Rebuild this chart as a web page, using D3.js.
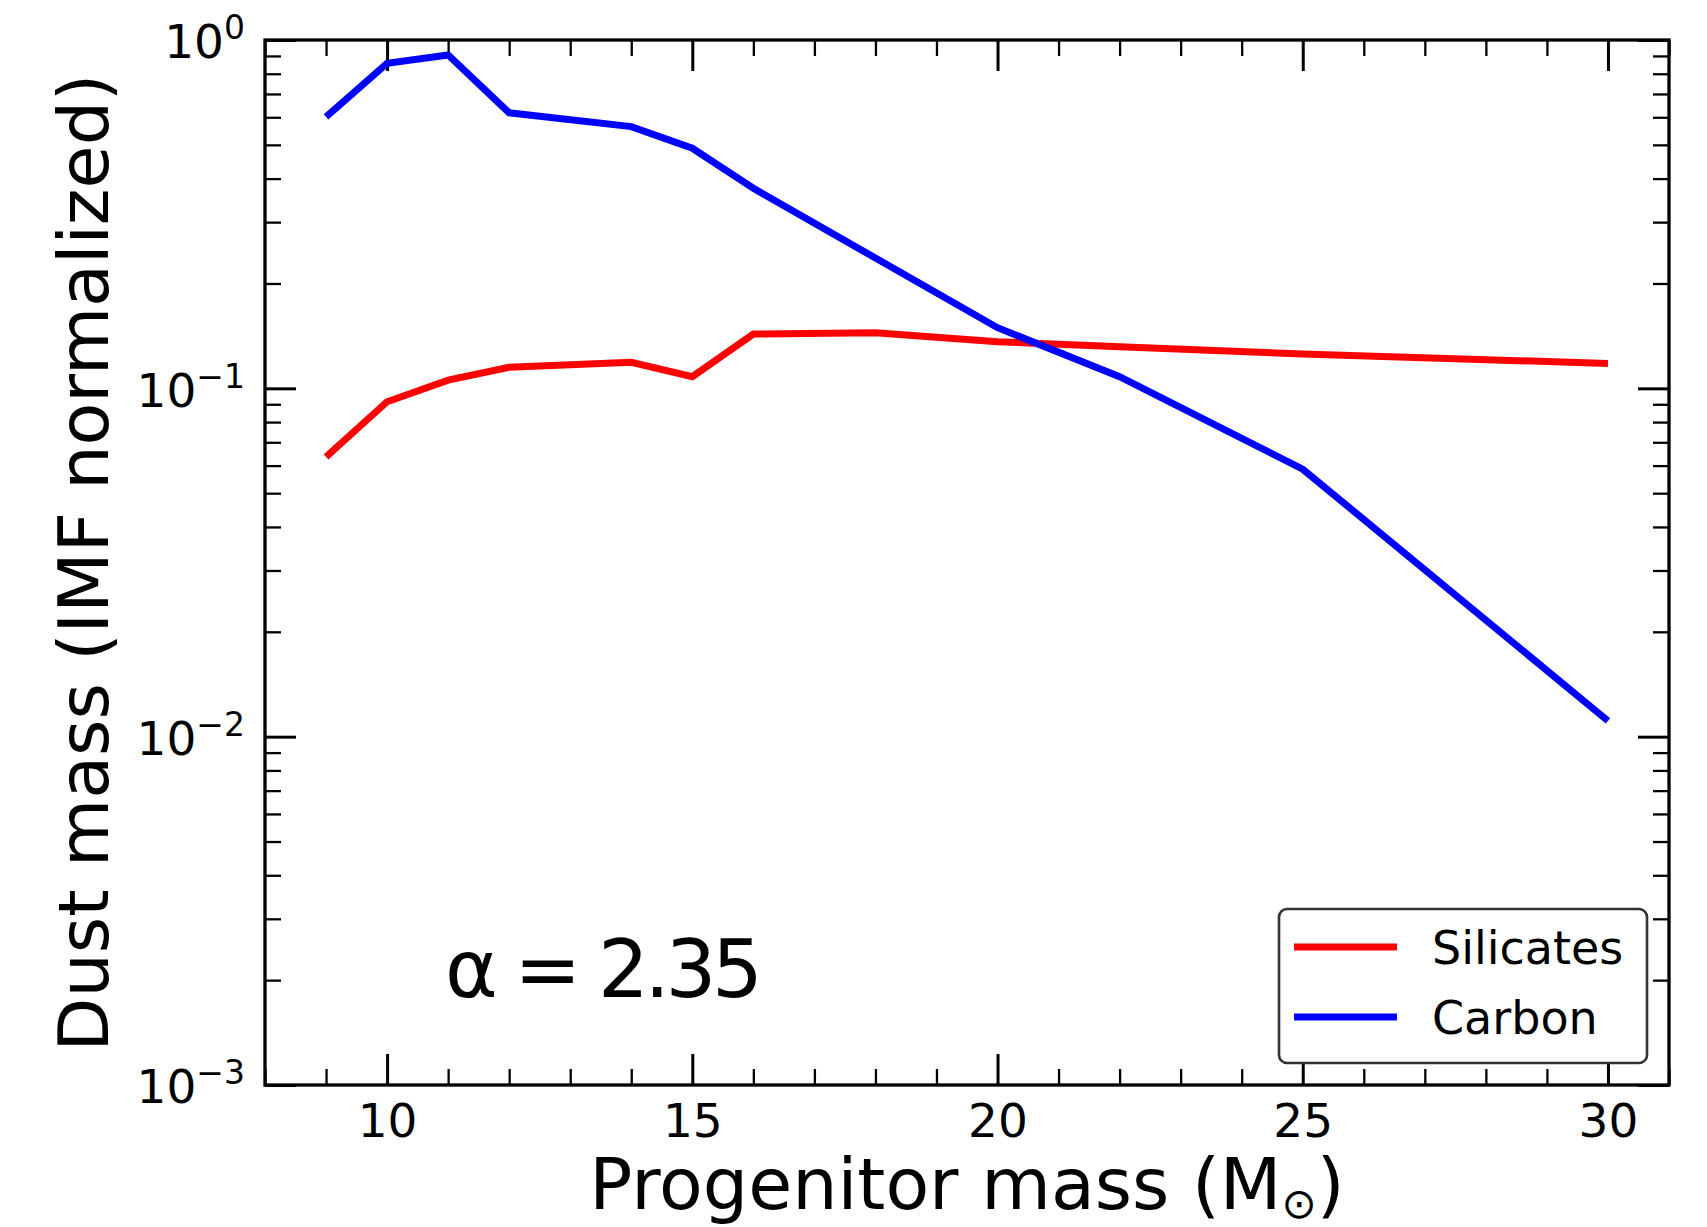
<!DOCTYPE html>
<html>
<head>
<meta charset="utf-8">
<script src="https://cdn.jsdelivr.net/npm/d3@7"></script>
<style>
  html, body { margin: 0; padding: 0; background: #fff; }
  svg { display: block; }
  text { font-family: "DejaVu Sans", sans-serif; fill: #000; }
</style>
</head>
<body>
<svg id="chart" width="1707" height="1227"></svg>
<script>
// ---- data ----
const masses = [9, 10, 11, 12, 14, 15, 16, 18, 20, 22, 25, 30];
const silicates = [0.0636, 0.0915, 0.1056, 0.1149, 0.1188, 0.1080, 0.1432, 0.1444, 0.1361, 0.1317, 0.1255, 0.1179];
const carbon = [0.602, 0.857, 0.906, 0.618, 0.564, 0.489, 0.3753, 0.2366, 0.1493, 0.1080, 0.0586, 0.0111];
const seriesNames = ["Silicates", "Carbon"];
const seriesColors = ["#ff0000", "#0000ff"];
const xMajorTicks = [10, 15, 20, 25, 30];
const yMajorExponents = [0, -1, -2, -3];
const xLabel = "Progenitor mass (M";
const yLabel = "Dust mass (IMF normalized)";
const annotation = "\u03b1 = 2.35";

// ---- layout ----
const L = 265, R = 1669, T = 40, B = 1085;
const svg = d3.select("#chart");

const x = d3.scaleLinear().domain([8, 31]).range([L, R]);
const y = d3.scaleLog().domain([1e-3, 1]).range([B, T]);

const xMinor = d3.range(8, 32).filter(v => !xMajorTicks.includes(v));
const yMajor = yMajorExponents.map(e => Math.pow(10, e));
const yMinor = [];
for (let e = -3; e < 0; e++) for (let k = 2; k <= 9; k++) yMinor.push(k * Math.pow(10, e));

function styleAxis(g, w) {
  g.select(".domain").remove();
  g.selectAll(".tick line").attr("stroke", "#000").attr("stroke-width", w);
}

// bottom major
const gxb = svg.append("g").attr("transform", `translate(0,${B})`)
  .call(d3.axisBottom(x).tickValues(xMajorTicks).tickSize(-31).tickPadding(19).tickFormat(d3.format("d")));
styleAxis(gxb, 3);
gxb.selectAll(".tick text").attr("font-size", 47).attr("font-family", "DejaVu Sans");
// bottom minor
const gxbm = svg.append("g").attr("transform", `translate(0,${B})`)
  .call(d3.axisBottom(x).tickValues(xMinor).tickSize(-16).tickFormat(""));
styleAxis(gxbm, 2.3);
// top major/minor
const gxt = svg.append("g").attr("transform", `translate(0,${T})`)
  .call(d3.axisTop(x).tickValues(xMajorTicks).tickSize(-31).tickFormat(""));
styleAxis(gxt, 3);
const gxtm = svg.append("g").attr("transform", `translate(0,${T})`)
  .call(d3.axisTop(x).tickValues(xMinor).tickSize(-16).tickFormat(""));
styleAxis(gxtm, 2.3);

// left major with labels
const gyl = svg.append("g").attr("transform", `translate(${L},0)`)
  .call(d3.axisLeft(y).tickValues(yMajor).tickSize(-31).tickPadding(20).tickFormat(""));
styleAxis(gyl, 3);
gyl.selectAll(".tick text").each(function(d) {
  const t = d3.select(this);
  const e = Math.round(Math.log10(d));
  t.attr("font-size", 47).attr("dy", "0.38em").attr("text-anchor", "end");
  t.append("tspan").text("10");
  t.append("tspan").attr("font-size", 33).attr("dy", -19)
    .text(e < 0 ? "\u2212" + Math.abs(e) : String(e));
});
const gylm = svg.append("g").attr("transform", `translate(${L},0)`)
  .call(d3.axisLeft(y).tickValues(yMinor).tickSize(-16).tickFormat(""));
styleAxis(gylm, 2.3);
// right
const gyr = svg.append("g").attr("transform", `translate(${R},0)`)
  .call(d3.axisRight(y).tickValues(yMajor).tickSize(-31).tickFormat(""));
styleAxis(gyr, 3);
const gyrm = svg.append("g").attr("transform", `translate(${R},0)`)
  .call(d3.axisRight(y).tickValues(yMinor).tickSize(-16).tickFormat(""));
styleAxis(gyrm, 2.3);

// data lines
const line = d3.line().x((d, i) => x(masses[i])).y(d => y(d));
[silicates, carbon].forEach((s, i) => {
  svg.append("path").datum(s)
    .attr("d", line)
    .attr("fill", "none")
    .attr("stroke", seriesColors[i])
    .attr("stroke-width", 7)
    .attr("stroke-linejoin", "miter")
    .attr("stroke-linecap", "butt");
});

// spines
svg.append("rect").attr("x", L).attr("y", T).attr("width", R - L).attr("height", B - T)
  .attr("fill", "none").attr("stroke", "#000").attr("stroke-width", 3.3);

// axis labels
const xl = svg.append("text").attr("x", (L + R) / 2).attr("y", 1209)
  .attr("text-anchor", "middle").attr("font-size", 71.5);
xl.append("tspan").text(xLabel);
xl.append("tspan").attr("font-size", 42).attr("dy", 9).text("\u2299");
xl.append("tspan").attr("dy", -9).text(")");

svg.append("text")
  .attr("transform", `translate(108,${(T + B) / 2}) rotate(-90)`)
  .attr("text-anchor", "middle").attr("font-size", 70)
  .text(yLabel);

// annotation
svg.append("text").attr("x", 445).attr("y", 997)
  .attr("font-family", "Lato, sans-serif").attr("font-size", 80)
  .attr("textLength", 318).attr("lengthAdjust", "spacing")
  .text(annotation);

// legend
const lg = svg.append("g");
lg.append("rect").attr("x", 1279).attr("y", 909).attr("width", 368).attr("height", 154)
  .attr("rx", 8).attr("ry", 8)
  .attr("fill", "#fff").attr("stroke", "#333").attr("stroke-width", 2.6);
const legendY = [947, 1017];
seriesNames.forEach((n, i) => {
  lg.append("line").attr("x1", 1294).attr("x2", 1397).attr("y1", legendY[i]).attr("y2", legendY[i])
    .attr("stroke", seriesColors[i]).attr("stroke-width", 7);
  lg.append("text").attr("x", 1432).attr("y", legendY[i] + 17)
    .attr("font-size", 46).text(n);
});
</script>
</body>
</html>
